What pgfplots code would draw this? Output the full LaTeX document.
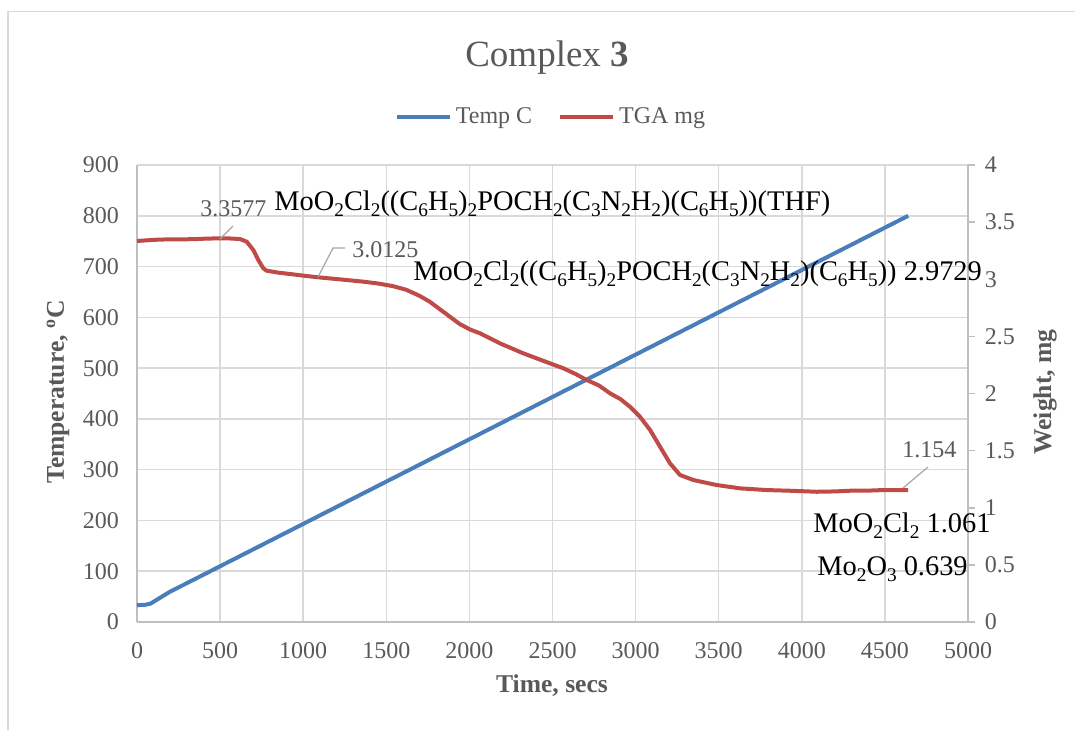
\documentclass[border=0pt]{standalone}
\usepackage{fontspec}
\setmainfont{Liberation Serif}
\usepackage{graphicx}
\usepackage{pgfplots}
\pgfplotsset{compat=1.18}
\definecolor{tblue}{HTML}{4A7EBB}
\definecolor{tred}{HTML}{BE4B48}
\definecolor{txtgray}{HTML}{595959}
\definecolor{gridgray}{HTML}{D9D9D9}
\definecolor{axgray}{HTML}{BFBFBF}
\definecolor{leadgray}{HTML}{A6A6A6}
\newcommand\sub[1]{\raisebox{-0.22em}{\scalebox{0.68}{#1}}}

\pgfplotstableread{
t T
0 33
50 34
80 36
110 42
140 48
170 54
200 60
300 76.5
1000 193.2
2000 359.9
3000 526.6
4000 693.3
4640 800
}\temptable

\pgfplotstableread{
t w
0 3.335
100 3.345
200 3.350
300 3.350
360 3.352
420 3.356
500 3.358
560 3.357
620 3.352
660 3.329
700 3.256
730 3.168
760 3.096
780 3.075
850 3.058
920 3.046
1000 3.032
1091 3.017
1200 3.002
1362 2.979
1450 2.963
1540 2.940
1620 2.908
1700 2.855
1760 2.805
1820 2.740
1883 2.672
1940 2.610
2004 2.560
2064 2.527
2184 2.439
2324 2.352
2485 2.264
2565 2.221
2640 2.170
2706 2.118
2780 2.070
2846 2.002
2910 1.950
2966 1.884
3026 1.797
3087 1.681
3147 1.534
3207 1.389
3267 1.287
3347 1.243
3420 1.220
3488 1.199
3628 1.170
3789 1.155
3950 1.148
4090 1.140
4200 1.143
4290 1.149
4400 1.150
4490 1.155
4640 1.154
}\tgatable

\begin{document}
\begin{tikzpicture}
\begin{scope}[x=0.5pt,y=-0.5pt]
\useasboundingbox (0,0) rectangle (1075,730);
\draw[gridgray, line width=0.75pt] (8,730) -- (8,11.5) -- (1075,11.5);
\end{scope}

\begin{axis}[
  at={(68.5pt,-311pt)}, anchor=south west,
  scale only axis, width=415.5pt, height=228.5pt,
  xmin=0, xmax=5000, ymin=0, ymax=900,
  xtick={0,500,...,5000}, ytick={0,100,...,900},
  scaled ticks=false,
  /pgf/number format/1000 sep={},
  /pgf/number format/assume math mode=true,
  axis x line*=bottom, axis y line*=left,
  axis line style={axgray, line width=0.75pt, -},
  grid=major, major grid style={gridgray, line width=0.75pt},
  major tick length=0pt,
  ticklabel style={font=\fontsize{12}{14}\selectfont, text=txtgray},
  yticklabel style={xshift=-5.5pt},
  xticklabel style={yshift=-6.5pt},
  clip=false,
]
\addplot[tblue, line width=2pt] table[x=t, y=T] {\temptable};
\end{axis}

\begin{axis}[
  at={(68.5pt,-311pt)}, anchor=south west,
  scale only axis, width=415.5pt, height=228.5pt,
  xmin=0, xmax=5000, ymin=0, ymax=4,
  ytick={0,0.5,...,4},
  /pgf/number format/assume math mode=true,
  axis x line=none, axis y line*=right,
  axis line style={axgray, line width=0.75pt, -},
  tick align=outside, major tick length=3.35pt,
  tick style={axgray, line width=0.75pt},
  ticklabel style={font=\fontsize{12}{14}\selectfont, text=txtgray},
  yticklabel style={xshift=1.5pt},
  legend columns=2,
  legend style={at={(0.4994,1.105)}, anchor=center, draw=none, fill=none,
    font=\fontsize{12}{14}\selectfont, text=txtgray,
    /tikz/every even column/.append style={column sep=11pt}},
  legend image code/.code={\draw[#1] (0pt,0pt) -- (26.5pt,0pt);},
  clip=false,
]
\addlegendimage{tblue, line width=2pt}
\addlegendentry{Temp C}
\addplot[tred, line width=2pt] table[x=t, y=w] {\tgatable};
\addlegendentry{TGA mg}
\end{axis}

\begin{scope}[x=0.5pt,y=-0.5pt]
\node[anchor=base, font=\fontsize{18.5}{22}\selectfont, text=txtgray, inner sep=0pt] at (547,66.7) {Complex \textbf{3}};
\node[rotate=90, font=\bfseries\fontsize{12.8}{15}\selectfont, text=txtgray] at (58,392) {Temperature, \textsuperscript{o}C};
\node[rotate=90, font=\bfseries\fontsize{12.8}{15}\selectfont, text=txtgray] at (1045,392) {Weight, mg};
\node[anchor=base, font=\bfseries\fontsize{12.8}{15}\selectfont, text=txtgray, inner sep=0pt] at (552,692) {Time, secs};
% data labels
\draw[leadgray, line width=0.6pt] (233,226) -- (220,239);
\node[anchor=base west, inner sep=0pt, font=\fontsize{12}{14}\selectfont, text=txtgray] at (200,216.7) {3.3577};
\draw[leadgray, line width=0.6pt] (318,277) -- (333,248) -- (345,248);
\node[anchor=base west, inner sep=0pt, font=\fontsize{12}{14}\selectfont, text=txtgray] at (352,257) {3.0125};
\draw[leadgray, line width=0.6pt] (928,467) -- (903,488);
\node[anchor=base west, inner sep=0pt, font=\fontsize{12}{14}\selectfont, text=txtgray] at (902,457) {1.154};
% annotations
\node[anchor=base west, inner sep=0pt, font=\fontsize{14.2}{16}\selectfont] at (274,210) {MoO\sub{2}Cl\sub{2}((C\sub{6}H\sub{5})\sub{2}POCH\sub{2}(C\sub{3}N\sub{2}H\sub{2})(C\sub{6}H\sub{5}))(THF)};
\node[anchor=base west, inner sep=0pt, font=\fontsize{14.2}{16}\selectfont] at (413,280) {MoO\sub{2}Cl\sub{2}((C\sub{6}H\sub{5})\sub{2}POCH\sub{2}(C\sub{3}N\sub{2}H\sub{2})(C\sub{6}H\sub{5})) 2.9729};
\node[anchor=base west, inner sep=0pt, font=\fontsize{14.2}{16}\selectfont] at (813,532) {MoO\sub{2}Cl\sub{2} 1.061};
\node[anchor=base west, inner sep=0pt, font=\fontsize{14.2}{16}\selectfont] at (817,575) {Mo\sub{2}O\sub{3} 0.639};
\end{scope}
\end{tikzpicture}
\end{document}
